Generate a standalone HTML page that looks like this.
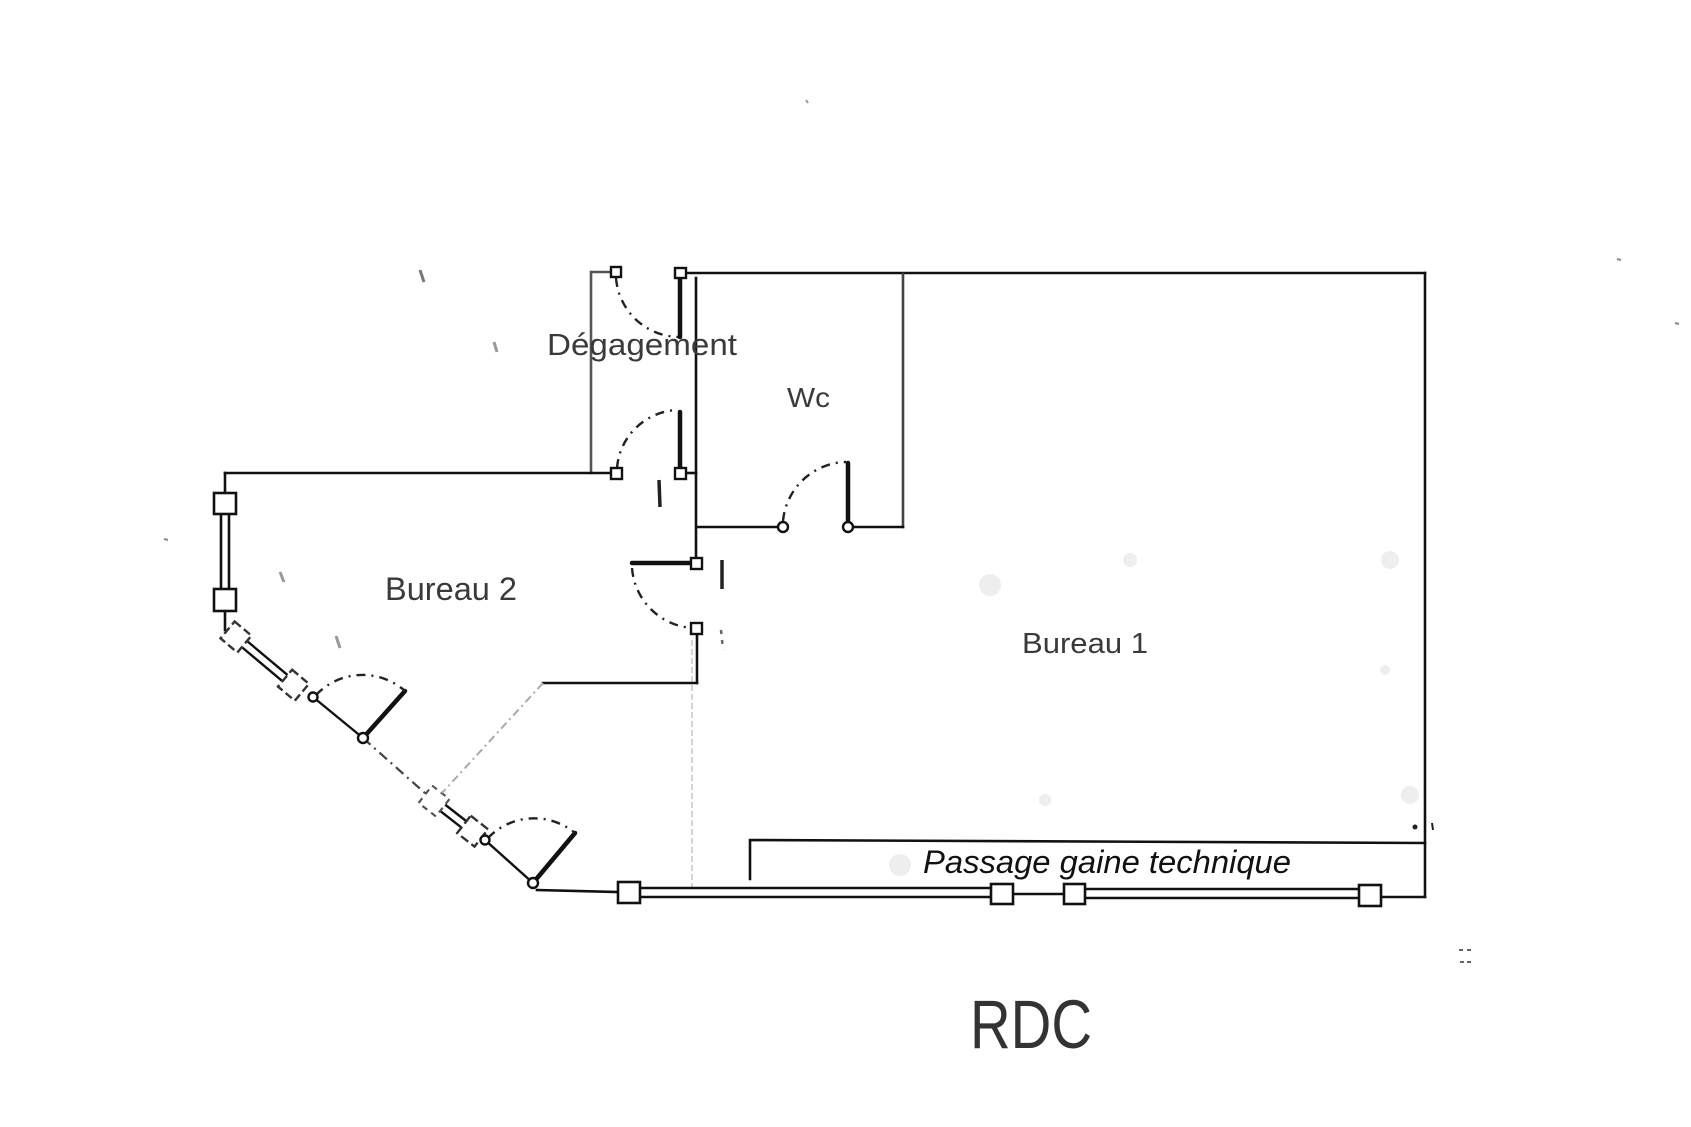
<!DOCTYPE html>
<html><head><meta charset="utf-8"><style>
html,body{margin:0;padding:0;background:#fff;}
svg{display:block;}
text{font-family:"Liberation Sans",sans-serif;}
</style></head><body>
<svg width="1691" height="1127" viewBox="0 0 1691 1127" xmlns="http://www.w3.org/2000/svg">
<rect width="1691" height="1127" fill="#fff"/>

<!-- faint marks -->
<g stroke="#bbb" stroke-width="2" fill="none">
  <line x1="692" y1="640" x2="692" y2="890" stroke="#d4d4d4" stroke-dasharray="6 3"/>
  <line x1="420" y1="270" x2="424" y2="282" stroke="#777" stroke-width="3"/>
  <line x1="494" y1="342" x2="497" y2="352" stroke="#999" stroke-width="3"/>
  <line x1="280" y1="572" x2="284" y2="582" stroke="#999" stroke-width="3"/>
  <line x1="336" y1="636" x2="340" y2="648" stroke="#999" stroke-width="3"/>
  <line x1="164" y1="539" x2="168" y2="540" stroke="#888"/>
  <line x1="1617" y1="259" x2="1621" y2="260" stroke="#888"/>
  <line x1="1675" y1="323" x2="1679" y2="324" stroke="#888"/>
  <line x1="806" y1="100" x2="808" y2="103" stroke="#999"/>
  <line x1="1459" y1="950" x2="1463" y2="950" stroke="#666"/>
  <line x1="1467" y1="950" x2="1471" y2="950" stroke="#666"/>
  <line x1="1460" y1="962" x2="1464" y2="962" stroke="#666"/>
  <line x1="1467" y1="962" x2="1471" y2="962" stroke="#666"/>
</g>
<g fill="#eeeeee">
  <circle cx="990" cy="585" r="11"/>
  <circle cx="1130" cy="560" r="7"/>
  <circle cx="1390" cy="560" r="9"/>
  <circle cx="1410" cy="795" r="9"/>
  <circle cx="900" cy="865" r="11"/>
  <circle cx="1045" cy="800" r="6"/>
  <circle cx="1385" cy="670" r="5"/>
</g>

<!-- walls -->
<g stroke="#111" stroke-width="2.6" fill="none" stroke-linecap="square">
  <line x1="686" y1="273" x2="1425" y2="273"/>
  <line x1="1425" y1="273" x2="1425" y2="897"/>
  <line x1="696" y1="278" x2="696" y2="558"/>
  <line x1="697" y1="634" x2="697" y2="683"/>
  <line x1="903" y1="274" x2="903" y2="527" stroke="#444"/>
  <line x1="697" y1="527" x2="778" y2="527"/>
  <line x1="853" y1="527" x2="903" y2="527"/>
  <polyline points="610,272 591,272 591,473" stroke="#555"/>
  <line x1="686" y1="473" x2="696" y2="473"/>
  <line x1="225" y1="473" x2="611" y2="473"/>
  <line x1="225" y1="473" x2="225" y2="493"/>
  <line x1="225" y1="611" x2="225" y2="630"/>
  <line x1="543" y1="683" x2="697" y2="683"/>
  <!-- passage -->
  <polyline points="750,879 750,840 1425,843"/>
  <!-- bottom wall -->
  <line x1="537" y1="890" x2="618" y2="892"/>
  <line x1="640" y1="888" x2="991" y2="888"/>
  <line x1="640" y1="897" x2="991" y2="897"/>
  <line x1="1013" y1="894" x2="1064" y2="894"/>
  <line x1="1085" y1="889" x2="1359" y2="889"/>
  <line x1="1085" y1="898" x2="1359" y2="898"/>
  <line x1="1381" y1="897" x2="1425" y2="897"/>
  <!-- left window double -->
  <line x1="221" y1="514" x2="221" y2="589"/>
  <line x1="229" y1="514" x2="229" y2="589"/>
</g>

<!-- window squares -->
<g stroke="#111" stroke-width="2.6" fill="#fff">
  <rect x="214" y="493" width="22" height="21"/>
  <rect x="214" y="589" width="22" height="22"/>
  <rect x="618" y="882" width="22" height="21"/>
  <rect x="991" y="884" width="22" height="20"/>
  <rect x="1064" y="884" width="21" height="20"/>
  <rect x="1359" y="885" width="22" height="21"/>
</g>

<!-- diagonal window 1 -->
<g transform="translate(236,637) rotate(40)">
  <line x1="11" y1="-4" x2="64" y2="-4" stroke="#111" stroke-width="2.4"/>
  <line x1="11" y1="4" x2="64" y2="4" stroke="#111" stroke-width="2.4"/>
  <rect x="-11" y="-11" width="22" height="22" fill="#fff" stroke="#333" stroke-width="2.4" stroke-dasharray="8 4"/>
  <rect x="64" y="-11" width="22" height="22" fill="#fff" stroke="#333" stroke-width="2.4" stroke-dasharray="8 4"/>
</g>
<!-- diagonal window 2 -->
<g transform="translate(434,801) rotate(38)">
  <line x1="11" y1="-4" x2="38" y2="-4" stroke="#111" stroke-width="2.4"/>
  <line x1="11" y1="4" x2="38" y2="4" stroke="#111" stroke-width="2.4"/>
  <rect x="-11" y="-11" width="22" height="22" fill="#fff" stroke="#555" stroke-width="2.2" stroke-dasharray="6 5"/>
  <rect x="38" y="-11" width="22" height="22" fill="#fff" stroke="#333" stroke-width="2.4" stroke-dasharray="9 4"/>
</g>

<!-- diagonal connections -->
<g fill="none">
  <line x1="313" y1="697" x2="363" y2="738" stroke="#111" stroke-width="2.4"/>
  <line x1="363" y1="738" x2="426" y2="794" stroke="#444" stroke-width="2.2" stroke-dasharray="10 5 2 5"/>
  <line x1="485" y1="840" x2="533" y2="883" stroke="#111" stroke-width="2.4"/>
  <line x1="543" y1="683" x2="442" y2="793" stroke="#aaa" stroke-width="2" stroke-dasharray="8 4 2 4"/>
</g>

<!-- door leaves -->
<g stroke="#111" stroke-width="4.5" stroke-linecap="round" fill="none">
  <line x1="363" y1="738" x2="405" y2="691"/>
  <line x1="533" y1="883" x2="575" y2="833"/>
  <line x1="680" y1="278" x2="680" y2="337"/>
  <line x1="680" y1="412" x2="680" y2="468"/>
  <line x1="848" y1="463" x2="848" y2="522"/>
  <line x1="632" y1="563" x2="692" y2="563"/>
</g>

<!-- door swings -->
<g stroke="#222" stroke-width="2.4" fill="none" stroke-dasharray="9 6 2 6">
  <path d="M 316 695 A 64 64 0 0 1 405 691"/>
  <path d="M 488 838 A 64 64 0 0 1 575 833"/>
  <path d="M 616 278 A 64 64 0 0 0 678 337"/>
  <path d="M 617 468 A 63 63 0 0 1 678 410"/>
  <path d="M 783 521 A 65 65 0 0 1 846 462"/>
  <path d="M 632 568 A 65 65 0 0 0 692 628"/>
</g>

<!-- hinge markers -->
<g stroke="#111" stroke-width="2.4" fill="#fff">
  <circle cx="313" cy="697" r="4.5"/>
  <circle cx="363" cy="738" r="5"/>
  <circle cx="485" cy="840" r="4.5"/>
  <circle cx="533" cy="883" r="5"/>
  <circle cx="783" cy="527" r="5"/>
  <circle cx="848" cy="527" r="5"/>
  <rect x="611" y="267" width="10" height="10"/>
  <rect x="675" y="268" width="11" height="10"/>
  <rect x="611" y="468" width="11" height="11"/>
  <rect x="675" y="468" width="11" height="11"/>
  <rect x="691" y="558" width="11" height="11"/>
  <rect x="691" y="623" width="11" height="11"/>
</g>

<!-- small I marks -->
<g stroke="#222" stroke-width="3.5" fill="none">
  <line x1="659" y1="480" x2="660" y2="507"/>
  <line x1="722" y1="560" x2="722" y2="589"/>
  <line x1="721" y1="630" x2="723" y2="650" stroke="#666" stroke-width="2.5" stroke-dasharray="4 6"/>
  <circle cx="1415" cy="827" r="2.5" fill="#222" stroke="none"/>
  <line x1="1432" y1="823" x2="1433" y2="830" stroke-width="2"/>
</g>

<!-- labels -->
<g fill="#3a3a3a">
  <text x="547" y="355" font-size="31" textLength="190" lengthAdjust="spacingAndGlyphs">Dégagement</text>
  <text x="787" y="407" font-size="28" textLength="43" lengthAdjust="spacingAndGlyphs">Wc</text>
  <text x="385" y="600" font-size="32" textLength="132" lengthAdjust="spacingAndGlyphs">Bureau 2</text>
  <text x="1022" y="653" font-size="29" textLength="126" lengthAdjust="spacingAndGlyphs">Bureau 1</text>
</g>
<text x="923" y="873" font-size="32" font-style="italic" fill="#111" textLength="368" lengthAdjust="spacingAndGlyphs">Passage gaine technique</text>
<text x="970" y="1048" font-size="69" fill="#333" textLength="122" lengthAdjust="spacingAndGlyphs">RDC</text>
</svg>
</body></html>
